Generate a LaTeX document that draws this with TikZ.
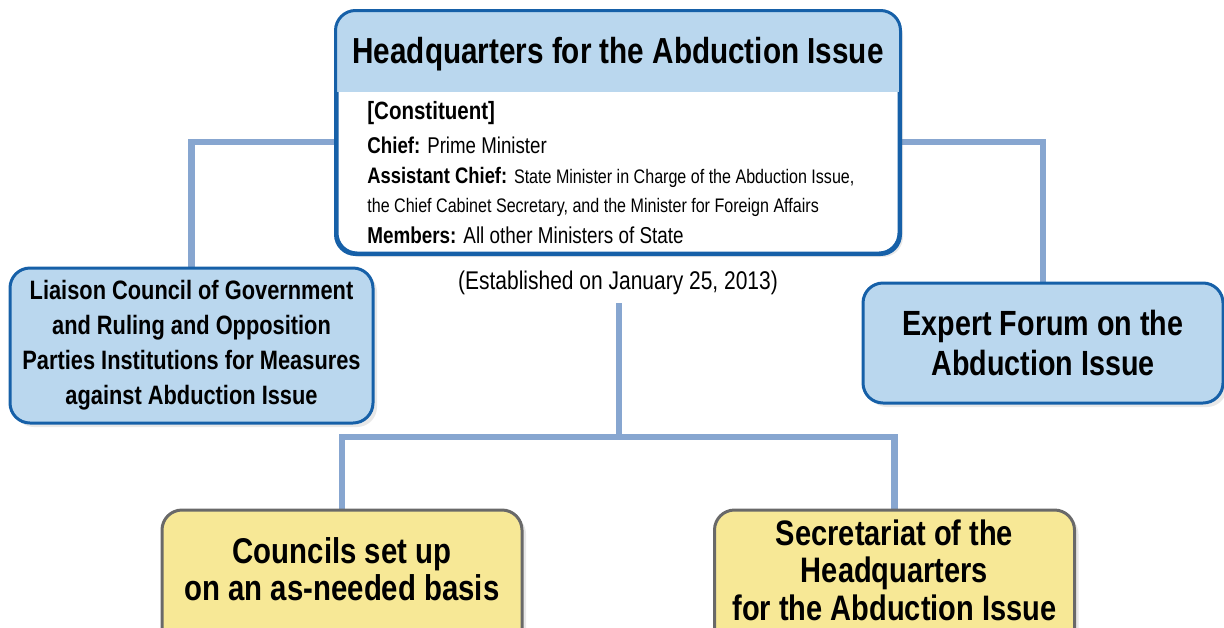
\documentclass[tikz,border=0pt]{standalone}
\usepackage{fontspec}
\setmainfont{Liberation Sans}[FakeStretch=0.82]
\usetikzlibrary{shadows,backgrounds}
\definecolor{hqblue}{RGB}{22,96,168}
\definecolor{boxfill}{RGB}{186,215,238}
\definecolor{linkblue}{RGB}{135,166,208}
\definecolor{noteyellow}{RGB}{247,232,150}
\definecolor{notegray}{RGB}{105,105,105}

\begin{document}
\begin{tikzpicture}[x=0.5pt,y=-0.5pt,
  softshadow/.style={drop shadow={shadow xshift=2pt,shadow yshift=-2pt,opacity=0.18}},
  bluebox/.style={draw=hqblue,line width=1.5pt,fill=boxfill,rounded corners=10pt,
    align=center,softshadow},
  yellowbox/.style={draw=notegray,line width=1.5pt,fill=noteyellow,rounded corners=10pt,
    softshadow},
  link/.style={draw=linkblue,line width=3.2pt},
  item/.style={anchor=base west,inner sep=0pt}]
  \useasboundingbox (0,0) rectangle (1224,627);
  \clip (0,0) rectangle (1224,627);

  % Headquarters box
  \node[draw=hqblue,line width=1.5pt,fill=white,rounded corners=10pt,
    minimum width=281pt,minimum height=120.5pt,softshadow] (hq) at (618,132.5) {};
  \begin{scope}
    \clip[rounded corners=10pt] (hq.north west) rectangle (hq.south east);
    \fill[boxfill] (hq.north west) rectangle (hq.east |- 0,92);
  \end{scope}
  \draw[hqblue,line width=1.5pt,rounded corners=10pt] (hq.north west) rectangle (hq.south east);

  \node[anchor=base,font=\bfseries\fontsize{18.1}{20}\selectfont] (title) at (618,63)
    {Headquarters for the Abduction Issue};

  % Constituent lines
  \node[item,font=\bfseries\fontsize{12.5}{14}\selectfont] (constituent) at (367,119) {[Constituent]};
  \node[item,font=\fontsize{11.4}{13}\selectfont] (chief) at (367,153)
    {\textbf{Chief:} Prime Minister};
  \node[item,font=\fontsize{11.2}{13}\selectfont] (assistant) at (367,183)
    {\textbf{Assistant Chief:} {\fontsize{9.8}{13}\selectfont State Minister in Charge of the Abduction Issue,}};
  \node[item,font=\fontsize{9.8}{13}\selectfont] (assistant2) at (367,212)
    {the Chief Cabinet Secretary, and the Minister for Foreign Affairs};
  \node[item,font=\fontsize{11.5}{13}\selectfont] (members) at (367,243)
    {\textbf{Members:} All other Ministers of State};

  \node[anchor=base,font=\fontsize{12.8}{14}\selectfont] (est) at (618,289)
    {(Established on January 25, 2013)};

  % Side boxes
  \node[bluebox,minimum width=181.5pt,minimum height=77.5pt,
    font=\bfseries\fontsize{13.3}{17.5}\selectfont] (liaison) at (191.5,345.5)
    {Liaison Council of Government\\and Ruling and Opposition\\Parties Institutions for Measures\\against Abduction Issue};
  \node[bluebox,minimum width=180pt,minimum height=60pt,
    font=\bfseries\fontsize{17.5}{20}\selectfont] (forum) at (1043,343)
    {Expert Forum on the\\Abduction Issue};

  % Bottom boxes (cut by the lower edge)
  \node[yellowbox,minimum width=180pt,minimum height=80pt] (councils) at (342,590) {};
  \node[align=center,font=\bfseries\fontsize{17.9}{18.5}\selectfont] (councilstext) at (342,569)
    {Councils set up\\on an as-needed basis};
  \node[yellowbox,minimum width=180pt,minimum height=80pt] (secretariat) at (894.5,590) {};
  \node[align=center,font=\bfseries\fontsize{17.7}{18.7}\selectfont] (secretariattext) at (894.5,570)
    {Secretariat of the\\Headquarters\\for the Abduction Issue};

  % Connectors
  \begin{pgfonlayer}{background}
    \coordinate (lj) at (liaison.north |- 0,142);
    \coordinate (rj) at (forum.north |- 0,142);
    \coordinate (ctop) at (619,303);
    \coordinate (cj) at (619,437);
    \draw[link] (hq.west |- lj) -- (lj) -- (liaison.north);
    \draw[link] (hq.east |- rj) -- (rj) -- (forum.north);
    \draw[link] (ctop) -- (cj);
    \draw[link] (councils.north) |- (cj) -| (secretariat.north);
  \end{pgfonlayer}
\end{tikzpicture}
\end{document}
